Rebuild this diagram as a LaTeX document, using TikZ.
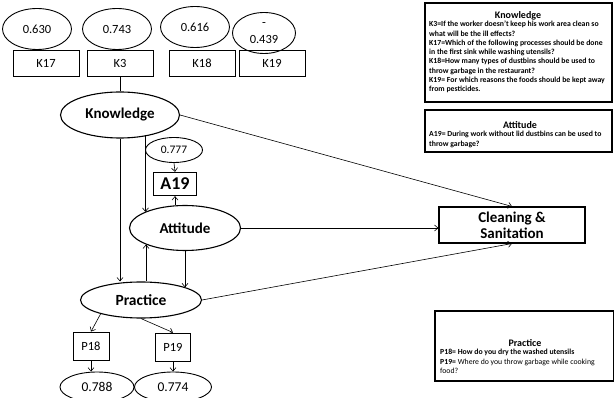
\documentclass[tikz,border=0pt]{standalone}
\usepackage{fontspec}
\setmainfont{Carlito}
\usetikzlibrary{shapes.geometric,arrows.meta,calc}
\newcommand{\firstline}{\rule{0pt}{6.6pt}}
\begin{document}
\begin{tikzpicture}[x=1pt,y=-1pt,
  latent/.style={ellipse, draw, line width=1.1pt, inner sep=0pt,
    font=\bfseries\fontsize{15}{17}\selectfont},
  errterm/.style={ellipse, draw, line width=0.9pt, inner sep=0pt,
    minimum width=69pt, minimum height=41pt, font=\fontsize{12.5}{14}\selectfont},
  item/.style={rectangle, draw, line width=0.9pt, inner sep=0pt,
    minimum width=66pt, minimum height=26pt, font=\fontsize{12.5}{14}\selectfont},
  link/.style={-{Straight Barb[length=3.5pt,width=6pt]}, line width=0.6pt},
  panel/.style={draw, line width=1.3pt},
  ptitle/.style={font=\bfseries\fontsize{10}{12}\selectfont, inner sep=0pt, anchor=base},
  ptext/.style={font=\bfseries\fontsize{7.75}{9.3}\selectfont, align=left,
    inner sep=0pt, anchor=north west}
]
\useasboundingbox (0,0) rectangle (614,398);

% knowledge indicators with their loadings
\node[errterm] (e17) at (37,29) {0.630};
\node[errterm] (e3)  at (117,29) {0.743};
\node[errterm] (e18) at (195,27) {0.616};
\node[errterm, minimum width=63pt, align=center,
  font=\fontsize{12.5}{16.5}\selectfont] (e19) at (264,33) {-\\0.439};
\node[item] (k17) at (46,63) {K17};
\node[item] (k3)  at (120,63) {K3};
\node[item] (k18) at (202,63) {K18};
\node[item] (k19) at (272,63) {K19};

% latent constructs
\node[latent, minimum width=119pt, minimum height=46pt] (know) at (120,115) {Knowledge};
\node[latent, minimum width=111pt, minimum height=45pt] (att) at (185,228) {Attitude};
\node[latent, minimum width=121pt, minimum height=36pt,
  font=\bfseries\fontsize{15.5}{17}\selectfont] (prac) at (141,300) {Practice};

% attitude indicator
\node[errterm, minimum width=57pt, minimum height=25pt,
  font=\fontsize{11.5}{13}\selectfont] (e777) at (174,150) {0.777};
\node[item, minimum width=43pt, minimum height=23pt, line width=1.2pt,
  font=\bfseries\fontsize{18}{20}\selectfont] (a19) at (175,184) {A19};

% practice indicators
\node[item, minimum width=36pt, minimum height=28pt] (p18) at (91,346) {P18};
\node[item, minimum width=35pt, minimum height=28pt] (p19) at (173,347) {P19};
\node[errterm, minimum width=74pt, minimum height=30pt,
  font=\fontsize{13.5}{15}\selectfont] (e788) at (97,387) {0.788};
\node[errterm, minimum width=77pt, minimum height=30pt,
  font=\fontsize{13.5}{15}\selectfont] (e774) at (173,387) {0.774};

% outcome
\node[rectangle, draw, line width=1.1pt, minimum width=146pt, minimum height=36pt,
  inner sep=0pt, align=center, font=\bfseries\fontsize{15}{16}\selectfont]
  (clean) at (512,225) {Cleaning \&\\Sanitation};

% connectors
\draw[line width=0.6pt] (k3.south) -- (know.north);
\draw[link] (know.east) -- (clean.north);
\draw[link] (know.south) -- (know.south |- prac.north);
\draw[link] (know.-40) -- (know.-40 |- att.158);
\draw[link] (e777.south) -- (a19.north);
\draw[link] (a19.south |- att.north) -- (a19.south);
\draw[link] (att.east) -- (att.east -| clean.west);
\draw[link] (att.203 |- prac.north) -- (att.203);
\draw[link] (att.south) -- (att.south |- prac.16);
\draw[link] (prac.east) -- (clean.south);
\draw[link] (prac.199) -- (p18.north);
\draw[link] (prac.south) -- (p19.north);
\draw[link] (p18.south) -- (p18.south |- e788.north);
\draw[link] (p19.south) -- (e774.north);

% item legends
\draw[panel] (425,3) rectangle (612,102);
\node[ptitle] (tk) at (518,18.5) {Knowledge};
\node[ptext] (lk) at (429,20) {\firstline K3=If the worker doesn't keep his work area clean so\\
what will be the ill effects?\\
K17=Which of the following processes should be done\\
in the first sink while washing utensils?\\
K18=How many types of dustbins should be used to\\
throw garbage in the restaurant?\\
K19= For which reasons the foods should be kept away\\
from pesticides.};

\draw[panel] (425,110) rectangle (612,152);
\node[ptitle] (ta) at (520,129) {Attitude};
\node[ptext] (la) at (429,130) {\firstline A19= During work without lid dustbins can be used to\\
throw garbage?};

\draw[panel] (435,311) rectangle (614,381);
\node[ptitle] (tp) at (525,346.5) {Practice};
\node[ptext] (lp) at (440,348) {\firstline P18= How do you dry the washed utensils\\
P19={\mdseries\ Where do you throw garbage while cooking}\\
{\mdseries food?}};
\end{tikzpicture}
\end{document}
